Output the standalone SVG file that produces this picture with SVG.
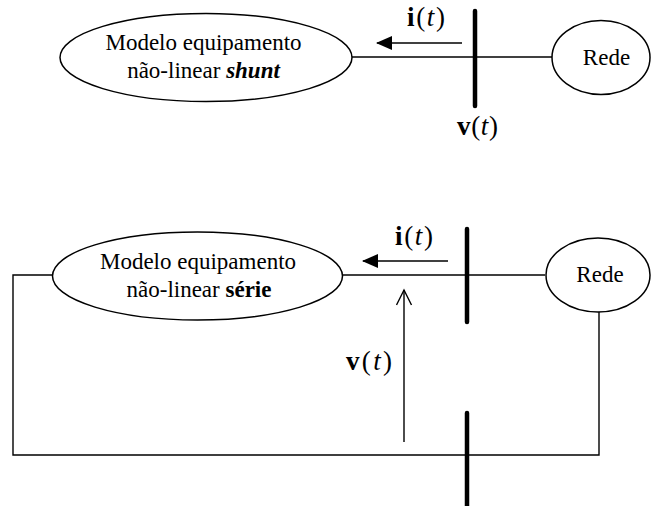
<svg xmlns="http://www.w3.org/2000/svg" width="651" height="506" viewBox="0 0 651 506">
<style>
.n{fill:#fff;stroke:#000;stroke-width:1.5}
.w{fill:none;stroke:#000;stroke-width:1.4}
.bus{stroke:#000;stroke-width:4.5;stroke-linecap:round}
text{font-family:'Liberation Serif','Times New Roman','DejaVu Serif',serif;fill:#000}
.t{font-size:23px}
.eq{font-size:27px}
</style>
<defs>
<marker id="fa" markerWidth="16" markerHeight="14" refX="15" refY="7" orient="auto" markerUnits="userSpaceOnUse">
<path d="M0,0 L16,7 L0,14 Z" fill="#000"/>
</marker>
<marker id="oa" markerWidth="18" markerHeight="18" refX="16" refY="8" orient="auto" markerUnits="userSpaceOnUse">
<path d="M1,0.5 L16,8 L1,15.5" fill="none" stroke="#000" stroke-width="1.4"/>
</marker>
</defs>
<g id="connectors">
<line class="w" x1="352" y1="57" x2="552" y2="57"/>
<line class="w" x1="462" y1="43" x2="377" y2="43" marker-end="url(#fa)"/>
<line class="w" x1="343" y1="275" x2="545" y2="275"/>
<polyline class="w" points="53,275 13,275 13,455 599,455 599,312"/>
<line class="w" x1="448" y1="261" x2="363" y2="261" marker-end="url(#fa)"/>
<line class="w" x1="404" y1="442" x2="404" y2="290" marker-end="url(#oa)"/>
</g>
<g id="bus1"><line class="bus" x1="475" y1="11" x2="475" y2="106"/></g>
<g id="bus2"><line class="bus" x1="467" y1="229" x2="467" y2="322"/></g>
<g id="bus3"><line class="bus" x1="467" y1="413" x2="467" y2="510"/></g>
<g id="model1">
<ellipse class="n" cx="206" cy="57.5" rx="146" ry="44"/>
<text class="t" x="203.5" y="50" text-anchor="middle">Modelo equipamento</text>
<text class="t" x="203.5" y="78" text-anchor="middle">não-linear <tspan font-weight="bold" font-style="italic">shunt</tspan></text>
</g>
<g id="rede1">
<ellipse class="n" cx="601" cy="57.5" rx="49" ry="37"/>
<text class="t" x="606.5" y="65" text-anchor="middle">Rede</text>
</g>
<g id="model2">
<ellipse class="n" cx="197.5" cy="276" rx="145" ry="44"/>
<text class="t" x="198" y="269" text-anchor="middle">Modelo equipamento</text>
<text class="t" x="199" y="297" text-anchor="middle">não-linear <tspan font-weight="bold">série</tspan></text>
</g>
<g id="rede2">
<ellipse class="n" cx="598" cy="275" rx="52" ry="37"/>
<text class="t" x="600" y="282" text-anchor="middle">Rede</text>
</g>
<g id="labels">
<text class="eq" x="407" y="26" textLength="38" lengthAdjust="spacing"><tspan font-weight="bold">i</tspan>(<tspan font-style="italic">t</tspan>)</text>
<text class="eq" x="457" y="135" textLength="41" lengthAdjust="spacing"><tspan font-weight="bold">v</tspan>(<tspan font-style="italic">t</tspan>)</text>
<text class="eq" x="395" y="245" textLength="38" lengthAdjust="spacing"><tspan font-weight="bold">i</tspan>(<tspan font-style="italic">t</tspan>)</text>
<text class="eq" x="346" y="370" textLength="46" lengthAdjust="spacing"><tspan font-weight="bold">v</tspan>(<tspan font-style="italic">t</tspan>)</text>
</g>
</svg>
